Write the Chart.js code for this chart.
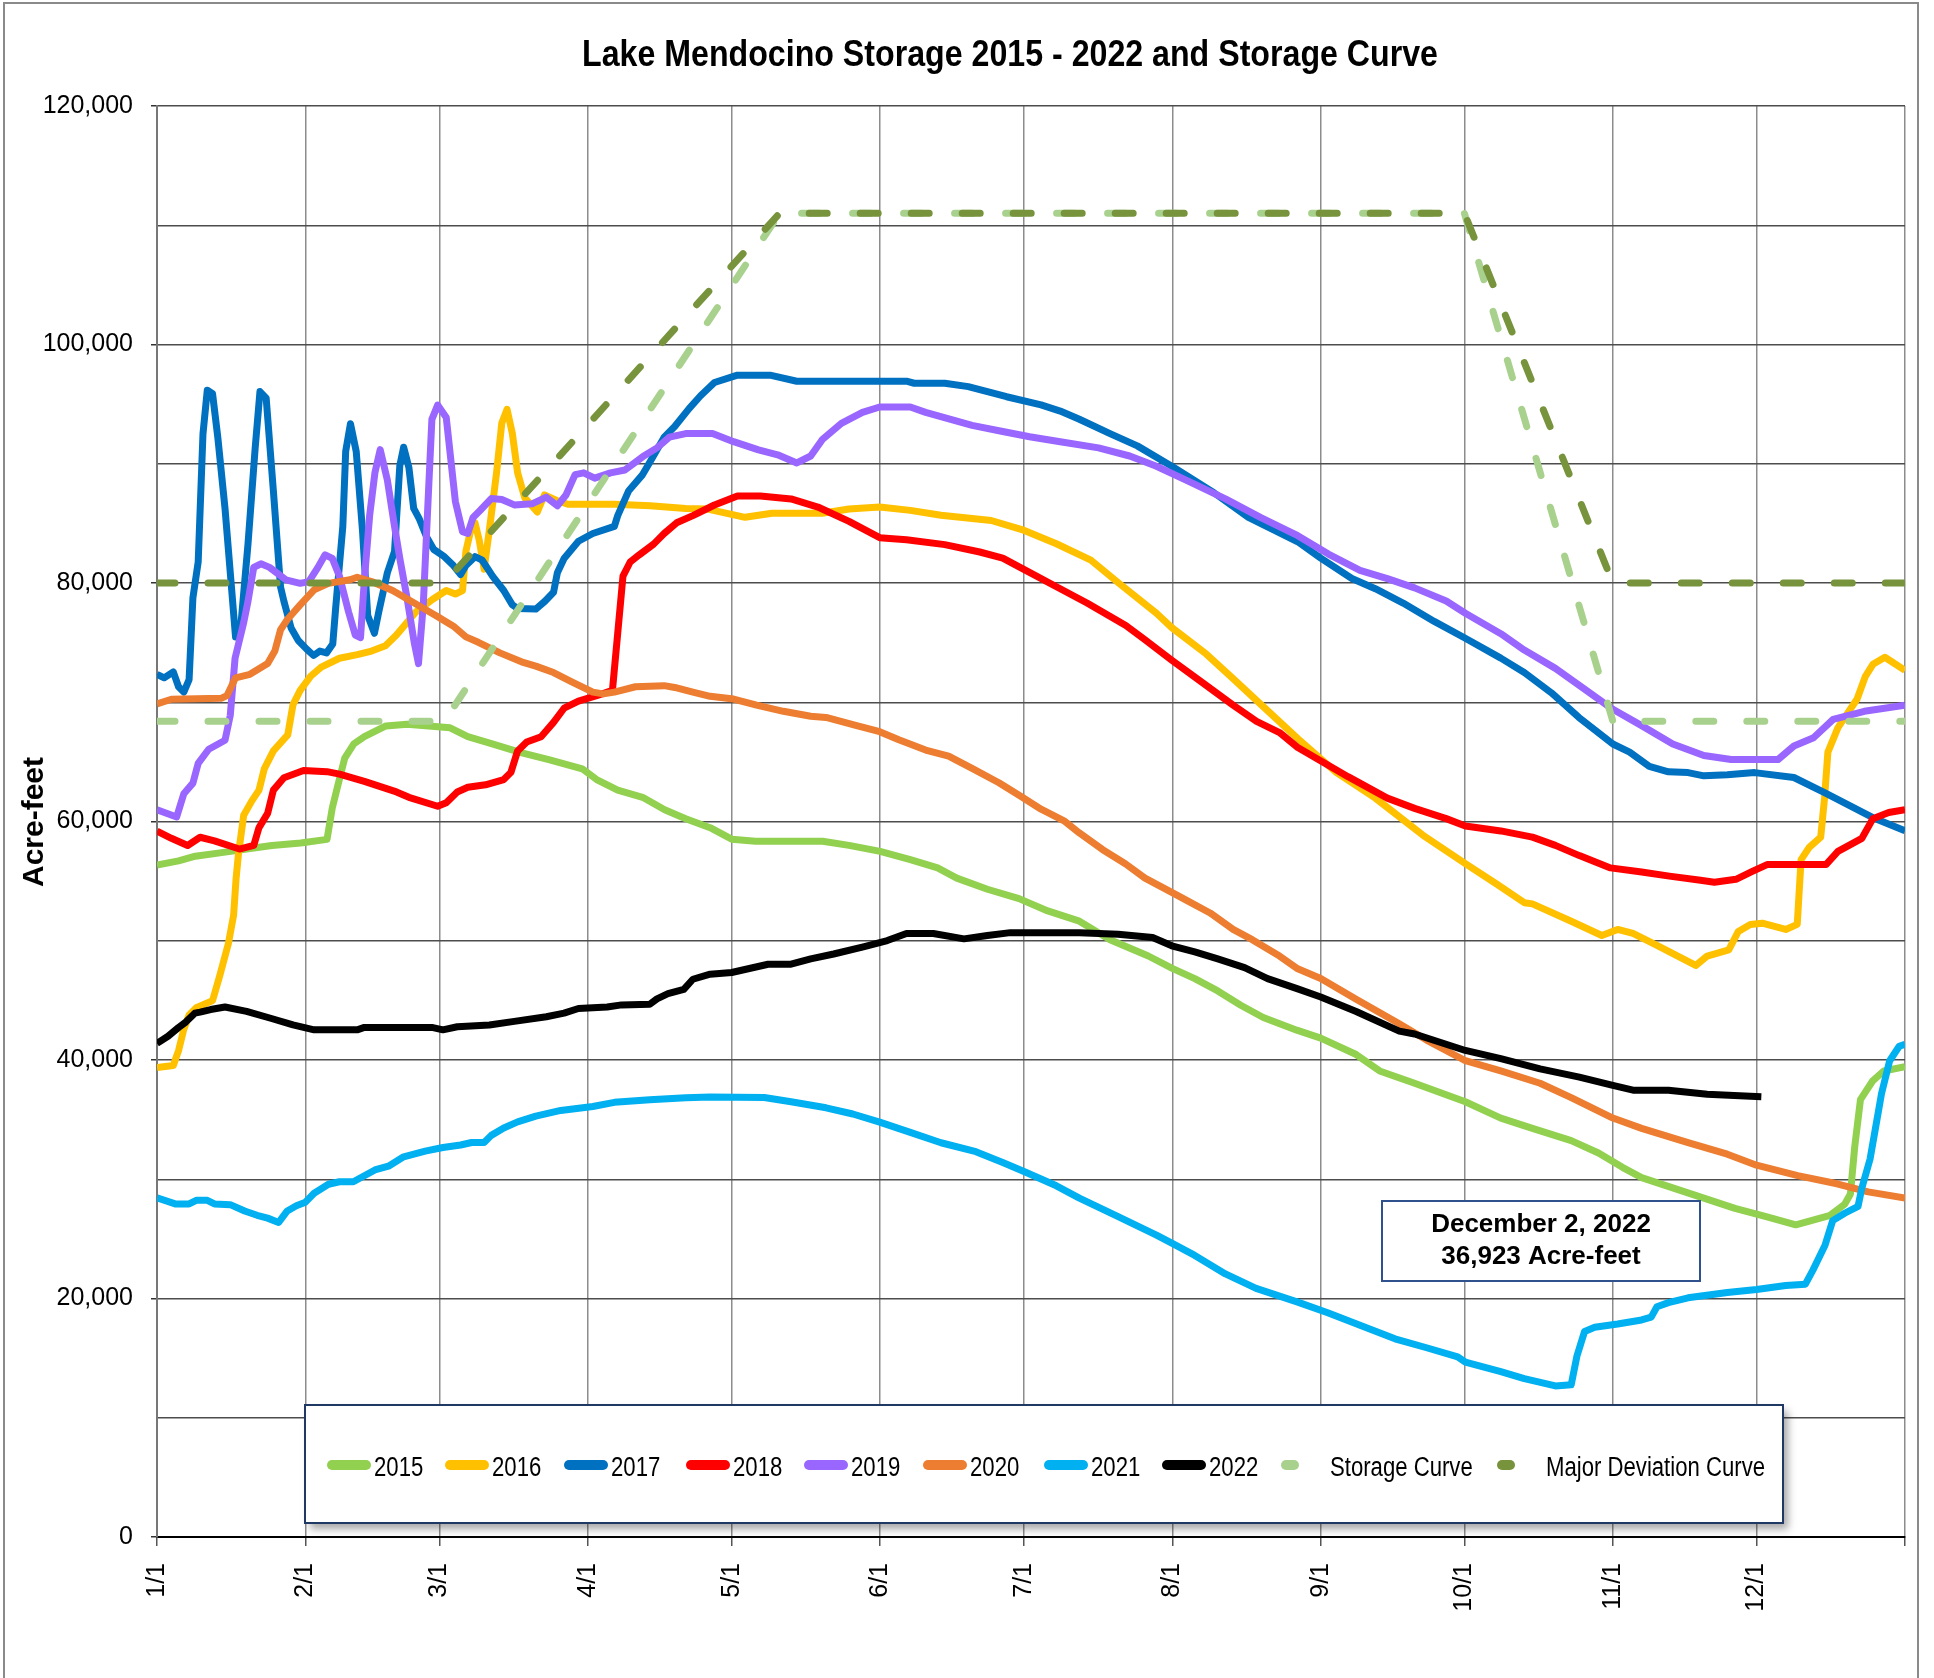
<!DOCTYPE html>
<html>
<head>
<meta charset="utf-8">
<title>Lake Mendocino Storage</title>
<script src="https://cdn.jsdelivr.net/npm/chart.js@4.4.1/dist/chart.umd.min.js"></script>
<style>
  html, body { margin: 0; padding: 0; background: #fff; }
  #wrap { position: relative; width: 1934px; height: 1678px; }
</style>
</head>
<body>
<div id="wrap"><canvas id="grafico"></canvas></div>
<script>
// day of year (0 = Jan 1) and storage in acre-feet
const s2015 = [[0,56350],[4.5,56700],[8,57090],[13.5,57390],[18.7,57690],[24,57990],[30,58200],[35.5,58500],[36.6,61130],[37.7,62930],[39.2,65320],[41.1,66510],[43.3,67110],[47.8,68010],[52.2,68160],[56.7,68010],[61.2,67860],[64.9,67110],[70,66510],[76,65770],[82,65170],[88.8,64420],[91.8,63520],[96.2,62630],[101.4,62030],[106,60980],[110.4,60230],[115.5,59480],[120,58520],[125,58350],[139,58350],[144.5,58000],[151,57490],[157.3,56800],[163,56110],[167,55250],[173.4,54320],[180,53530],[186,52500],[192.6,51640],[199,50090],[207,48720],[212,47680],[216.7,46820],[221.5,45790],[226.3,44590],[231,43560],[238,42500],[243,41840],[250.4,40460],[255.3,39080],[262.6,38050],[273.2,36500],[280.6,35130],[287.2,34270],[295.3,33240],[301,32200],[306,31000],[310,30140],[316.5,29280],[323,28420],[329.5,27560],[336,26870],[342.2,26180],[349.2,26940],[352.4,27900],[353.6,28760],[354.5,32720],[355.7,36680],[358.2,38220],[360.6,39080],[365,39430]];

const s2016 = [[0,39360],[3.4,39540],[4.5,40790],[5.6,42580],[6.7,43780],[8.2,44380],[11.6,44980],[13.1,47070],[14.9,49760],[16,52150],[16.5,55140],[17,57240],[18.1,60530],[19.8,61730],[21.3,62630],[22.4,64420],[24.3,65920],[27.3,67260],[28.4,69800],[29.9,71000],[32.1,72190],[34.3,72940],[38.1,73690],[41.8,73990],[44.8,74290],[47.7,74730],[50,75630],[52.2,76680],[54.1,77580],[57.5,78620],[60.4,79370],[62.3,79070],[63.8,79370],[64.5,82660],[65.7,84750],[66.4,85050],[67.3,83560],[68.3,81160],[69.4,84450],[70.9,89240],[72,93420],[73.1,94560],[74.2,92530],[75.3,89240],[76.8,87140],[79.4,85950],[80.9,87380],[83.6,86900],[85.8,86600],[95.5,86600],[103,86480],[110.4,86250],[115,86200],[122.8,85510],[128.4,85850],[138.9,85850],[144.5,86200],[150.9,86370],[157.3,86090],[163.7,85680],[174.2,85240],[180.6,84480],[187.8,83290],[195,81920],[200.7,80030],[208.7,77460],[211.9,76260],[219.1,74040],[224.7,71980],[231.1,69590],[238.2,66950],[246.3,64100],[254.4,61960],[264.3,58860],[273.2,56460],[279.8,54740],[285.5,53190],[287.2,53090],[295.3,51640],[301.7,50440],[305,50950],[308.2,50610],[313.1,49640],[321.3,47930],[323.7,48720],[328.2,49230],[330.2,50780],[332.7,51370],[335.2,51470],[340.1,50950],[342.5,51370],[343.3,56800],[345,57830],[347.4,58690],[348.2,61960],[348.9,65820],[351,67870],[355,70270],[356.7,72150],[358.3,73180],[360.8,73770],[362.4,73350],[365,72670]];

const s2017 = [[0,72340],[1.5,72050],[3.4,72550],[4.5,71300],[5.6,70850],[6.7,71900],[7.5,78770],[8.6,81760],[9.6,92500],[10.5,96170],[11.6,95870],[12.7,92200],[14.2,86250],[16.4,75480],[17.5,76380],[19,83260],[20.5,91330],[21.5,96050],[22.8,95500],[24.3,87740],[25.8,79670],[26.5,78470],[28,76230],[29.5,75180],[31.3,74430],[32.7,73920],[34,74290],[35.4,74140],[36.7,74880],[37.3,77870],[38.8,84750],[39.4,91030],[40.4,93360],[41.6,91030],[42.9,84450],[44,77270],[45.4,75780],[46.3,77570],[48.1,80860],[49.6,82660],[50.7,89830],[51.5,91390],[52.6,89680],[53.6,86250],[54.8,85350],[56.3,83860],[57.8,82810],[60,82210],[61.9,81460],[63.4,80710],[64.5,81460],[66.4,82210],[67.9,81910],[70.1,80560],[72.4,79370],[74.2,78170],[75.3,77870],[79.1,77810],[81,78470],[82.8,79220],[83.6,80860],[85,82060],[88,83500],[91,84150],[95.5,84750],[96.2,85650],[98.5,87740],[101.4,89090],[102.9,90130],[105.9,92230],[108.1,93120],[111.1,94620],[113.5,95700],[116.4,96810],[121.2,97430],[128,97430],[133.6,96920],[156.5,96920],[158.1,96750],[164.5,96750],[169.4,96470],[177.4,95620],[184.6,94930],[188.6,94420],[192.6,93730],[199,92530],[204.7,91500],[211.9,89790],[220.7,87570],[227.9,85510],[238.2,83460],[243,82090],[249.5,80380],[254.4,79520],[260.2,78320],[266.7,76780],[273,75410],[280.6,73700],[285.5,72500],[291.2,70780],[296.9,68730],[304,66500],[307.5,65820],[311.6,64620],[315.6,64170],[319.7,64100],[323,63830],[327.9,63930],[333.6,64100],[341.8,63690],[348.3,62400],[358.2,60340],[365,59220]];

const s2018 = [[0,59190],[3,58590],[6.4,57990],[9,58680],[12,58380],[17.2,57690],[20.2,57990],[21.3,59490],[23.1,60680],[24.3,62630],[26.5,63670],[30.6,64270],[35.5,64180],[38.1,63970],[43.3,63370],[50,62480],[52.6,62030],[58.6,61280],[60.4,61580],[62.7,62480],[64.9,62870],[68.6,63080],[72.4,63520],[73.9,64120],[75.3,65920],[77.2,66660],[80.2,67110],[82.8,68310],[85,69500],[88,70100],[91.8,70550],[95.1,71000],[96.2,75780],[97.3,80570],[98.8,81760],[100.7,82360],[103.7,83260],[105.9,84150],[108.5,85050],[111.9,85650],[116.4,86540],[121.2,87290],[126,87290],[132.4,87050],[138,86370],[144.5,85170],[150.9,83800],[156.5,83630],[164.5,83220],[171.8,82600],[176.6,82090],[181.4,81060],[188.6,79520],[194.2,78320],[202.3,76440],[206.3,75240],[211.9,73520],[218.3,71640],[224.7,69760],[229.6,68390],[234.4,67460],[238.2,66200],[248.7,63760],[256.9,61960],[262.6,61100],[269.2,60240],[273.2,59620],[280.6,59210],[287.2,58690],[292,58000],[297,57140],[303.5,56110],[310,55770],[315.8,55420],[322.3,55080],[325.2,54910],[329.7,55150],[332.9,55770],[336.2,56390],[348.5,56390],[351,57490],[356,58590],[358.3,60240],[361.6,60760],[365,61000]];

const s2019 = [[0,60980],[4.1,60380],[5.6,62330],[7.5,63220],[8.6,64870],[10.8,66060],[14.2,66810],[15.3,68900],[16.3,73690],[18.1,76680],[19,78470],[20.2,81310],[21.7,81610],[23.5,81310],[26.9,80270],[29.9,79970],[31.7,80120],[33.6,81310],[35.1,82360],[36.6,82060],[38.1,80570],[40,77580],[41.4,75640],[42.5,75420],[43.3,80270],[44.4,85650],[45.5,89240],[46.6,91180],[48.1,88640],[49.6,84750],[50.7,82060],[52.2,78770],[53.7,75030],[54.6,73240],[55.6,78170],[56.7,87740],[57.4,93720],[58.6,94920],[60.4,93870],[62.3,86840],[63.8,84300],[64.9,84150],[66,85500],[67.5,86100],[69.8,87080],[72,87000],[74.6,86550],[78.3,86640],[81.3,87200],[83.6,86480],[85.4,87380],[87.3,89090],[89.1,89240],[91.4,88790],[94.7,89240],[97.7,89480],[101.4,90580],[104.4,91330],[107,92230],[110.4,92530],[116,92530],[120.4,91850],[125.6,91160],[129.6,90750],[133.6,90070],[136.5,90650],[138.9,92020],[142.9,93390],[147.3,94310],[150.9,94760],[157.3,94760],[160.5,94310],[170.2,93220],[176.6,92700],[182.2,92260],[188.6,91850],[196.6,91330],[203.1,90650],[208.7,89790],[215.1,88590],[223.1,87050],[230.4,85510],[238.2,83970],[244.6,82430],[251.2,81060],[256.9,80370],[262.6,79590],[269.2,78490],[273.2,77460],[280.6,75750],[285.5,74380],[292,72840],[298.6,70950],[304,69410],[310,68040],[316.5,66500],[323,65540],[328.7,65200],[338.5,65200],[341.8,66330],[345.9,67020],[350,68560],[356.5,69240],[365,69760]];

const s2020 = [[0,69860],[3,70250],[13.5,70340],[14.6,70550],[16.4,72050],[19.4,72340],[23.1,73240],[24.6,74290],[25.8,76080],[27.3,76980],[29.9,78170],[32.8,79430],[35.8,79970],[40.3,80270],[41.8,80480],[44.8,80120],[49.2,79370],[53.7,78320],[58.2,77280],[61.9,76380],[64.5,75480],[67.1,75030],[71.6,74140],[76.1,73390],[79.1,73030],[82.8,72490],[86.5,71740],[91,70850],[93.2,70700],[95.5,70850],[99.9,71300],[105.9,71390],[108.1,71240],[111.9,70850],[115.5,70500],[120.4,70270],[125.2,69760],[130.8,69240],[136.5,68830],[139.7,68730],[146.1,68040],[150.9,67530],[154.9,66850],[160.5,65990],[165.3,65480],[170.2,64450],[175.8,63250],[180.6,62050],[184.6,61030],[189.4,60060],[192.6,59040],[197.4,57660],[202.2,56460],[206.3,55250],[211.9,54050],[215.1,53360],[219.9,52330],[224.7,50950],[228.7,50090],[234.4,48720],[238.2,47650],[243,46830],[250.4,45100],[259.4,43040],[265.1,41670],[273.2,39940],[280.6,39080],[288.8,38050],[295.3,36850],[304,35130],[310,34270],[319.7,33070],[327.9,32100],[334,31180],[342.6,30310],[350.8,29620],[357.3,28940],[365,28420]];

const s2021 = [[0,28440],[3.8,27930],[6.7,27930],[8.2,28230],[10.5,28230],[12,27930],[15.3,27870],[18.3,27340],[20.9,26980],[23.1,26740],[25.4,26380],[27.2,27340],[29.1,27780],[31,28080],[32.8,28830],[35.8,29580],[38.1,29790],[41,29790],[45.5,30780],[48.5,31130],[51.5,31880],[56,32360],[59.7,32660],[63.4,32870],[65.7,33080],[68.3,33080],[69.8,33680],[72.4,34300],[75.3,34810],[79.1,35290],[84.3,35770],[91,36100],[95.5,36450],[102.9,36660],[110.4,36840],[115.5,36900],[126.8,36850],[132.4,36500],[139.7,35990],[145.3,35470],[150.9,34790],[157.3,33930],[163.7,33060],[171,32310],[176.6,31410],[181.4,30590],[187.8,29450],[192.6,28420],[200.7,26870],[208.7,25320],[211.9,24640],[216.7,23610],[223.1,22060],[229.5,20850],[238.2,19700],[244.6,18790],[251.2,17760],[258.5,16620],[265.1,15870],[271.6,15110],[273.2,14660],[280.6,13870],[285.5,13280],[292,12670],[295.3,12770],[296.5,15180],[298.1,17240],[300.2,17590],[305,17860],[310,18200],[312,18440],[313.2,19310],[315.6,19650],[319.7,20060],[327.9,20510],[334,20750],[340.1,21090],[344.2,21200],[345.8,22400],[348.3,24460],[349.9,26530],[352.4,27150],[355.2,27730],[356,29280],[357.7,31690],[358.9,34440],[360.1,37190],[361.8,39940],[363.8,41150],[365,41320]];

const s2022 = [[0,41390],[2.3,41990],[4.5,42730],[6,43180],[7.9,43930],[9,44020],[11.2,44230],[14.2,44440],[18.7,44080],[23.9,43480],[28.4,42940],[32.8,42530],[41.8,42530],[43.3,42730],[57.4,42730],[59.7,42530],[62.7,42790],[69.4,42940],[74.6,43240],[81.3,43630],[85,43930],[88,44320],[94,44440],[97,44620],[102.9,44680],[104.4,45130],[106.7,45570],[110,45930],[111.9,46770],[115.5,47200],[120,47340],[127.6,48030],[132.4,48030],[136.5,48480],[141.3,48890],[147.7,49510],[152.5,50020],[156.5,50610],[162.1,50610],[168.5,50160],[173.4,50440],[178.2,50680],[192.6,50680],[200.7,50540],[207.9,50270],[211.9,49580],[216.7,49060],[221.5,48480],[227.1,47750],[231.9,46820],[238.2,45960],[243,45280],[250.4,44070],[259.4,42420],[262.6,42180],[273.2,40800],[280.6,40120],[288.8,39260],[297,38570],[304,37880],[308.2,37470],[315.6,37470],[323.7,37120],[335,36923]];

const storageCurve = [[0,68400],[60,68400],[130,111000],[273,111000],[304,68400],[365,68400]];
const majorDeviation = [[0,80000],[60,80000],[130,111000],[273,111000],[304,80000],[365,80000]];

// x axis: first day of each month, plus the year end
const monthDays = [0,31,59,90,120,151,181,212,243,273,304,334,365];
const monthLabels = ['1/1','2/1','3/1','4/1','5/1','6/1','7/1','8/1','9/1','10/1','11/1','12/1',''];

const seriesNames = ['2015','2016','2017','2018','2019','2020','2021','2022','Storage Curve','Major Deviation Curve'];
const seriesData = [s2015, s2016, s2017, s2018, s2019, s2020, s2021, s2022, storageCurve, majorDeviation];
const seriesColors = ['#92D050','#FFC000','#0070C0','#FF0000','#9966FF','#ED7D31','#00B0F0','#000000','#A9D18E','#77933C'];

const FONT = '"Liberation Sans", Arial, sans-serif';

// Arial Narrow look: use Liberation Sans Narrow if present, else squeeze Liberation Sans
function tieneFuente(nombre) {
    let c = document.createElement('canvas').getContext('2d');
    c.font = '40px monospace';
    let a = c.measureText('Storage 2015 Curve').width;
    c.font = '40px "' + nombre + '", monospace';
    let b = c.measureText('Storage 2015 Curve').width;
    return a !== b;
}
const NARROW = tieneFuente('Liberation Sans Narrow');

// ancho: if given, the text is stretched to that width
function textoEstrecho(ctx, text, x, y, size, weight, align, ancho) {
    ctx.save();
    ctx.fillStyle = '#000';
    ctx.textAlign = align;
    ctx.textBaseline = 'alphabetic';
    let sx = 1;
    if (NARROW) {
        ctx.font = weight + ' ' + size + 'px "Liberation Sans Narrow"';
    } else {
        ctx.font = weight + ' ' + size + 'px "Liberation Sans"';
        sx = 0.82;
    }
    if (ancho) {
        sx = ancho / ctx.measureText(text).width;
    }
    ctx.translate(x, y);
    ctx.scale(sx, 1);
    ctx.fillText(text, 0, 0);
    ctx.restore();
}

const decorado = {
    id: 'decorado',
    afterDraw(chart) {
        let ctx = chart.ctx;

        // outer frame
        ctx.save();
        ctx.strokeStyle = '#8a8a8a';
        ctx.lineWidth = 2;
        ctx.strokeRect(4, 3, 1914, 1700);
        ctx.restore();

        // title
        textoEstrecho(ctx, 'Lake Mendocino Storage 2015 - 2022 and Storage Curve', 1010, 66, 37, 'bold', 'center', 856);

        // y axis title
        ctx.save();
        ctx.translate(35, 822);
        ctx.rotate(-Math.PI / 2);
        ctx.font = 'bold 30px ' + FONT;
        ctx.fillStyle = '#000';
        ctx.textAlign = 'center';
        ctx.textBaseline = 'middle';
        ctx.fillText('Acre-feet', 0, 0);
        ctx.restore();

        // legend box
        ctx.save();
        ctx.shadowColor = 'rgba(0,0,0,0.35)';
        ctx.shadowBlur = 8;
        ctx.shadowOffsetX = 5;
        ctx.shadowOffsetY = 6;
        ctx.fillStyle = '#fff';
        ctx.fillRect(305, 1405, 1478, 118);
        ctx.restore();
        ctx.save();
        ctx.strokeStyle = '#1F3864';
        ctx.lineWidth = 2;
        ctx.strokeRect(305, 1405, 1478, 118);
        ctx.restore();

        let marcas = [327, 445, 564, 686, 804, 923, 1044, 1162, 1281, 1497];
        let ly = 1466;
        seriesNames.forEach((nombre, i) => {
            let x0 = marcas[i];
            let largo = i < 8 ? 44 : 18;
            ctx.save();
            ctx.strokeStyle = seriesColors[i];
            ctx.lineWidth = 10;
            ctx.lineCap = 'round';
            ctx.beginPath();
            ctx.moveTo(x0 + 5, ly - 1);
            ctx.lineTo(x0 + 5 + largo - 10, ly - 1);
            ctx.stroke();
            ctx.restore();
            let tx = i < 8 ? x0 + 47 : x0 + 49;
            textoEstrecho(ctx, nombre, tx, ly + 10, 27, 'normal', 'left');
        });

        // current value note
        ctx.save();
        ctx.fillStyle = '#fff';
        ctx.fillRect(1382, 1201, 318, 80);
        ctx.strokeStyle = '#2F528F';
        ctx.lineWidth = 2;
        ctx.strokeRect(1382, 1201, 318, 80);
        ctx.font = 'bold 26px ' + FONT;
        ctx.fillStyle = '#000';
        ctx.textAlign = 'center';
        ctx.fillText('December 2, 2022', 1541, 1232);
        ctx.fillText('36,923 Acre-feet', 1541, 1264);
        ctx.restore();
    }
};

let datasets = seriesData.map((serie, i) => {
    let curva = i >= 8;
    return {
        label: seriesNames[i],
        data: serie.map(p => ({ x: p[0], y: p[1] })),
        borderColor: seriesColors[i],
        backgroundColor: seriesColors[i],
        borderWidth: 7,
        borderDash: curva ? [18, 33] : [],
        borderCapStyle: curva ? 'round' : 'butt',
        borderJoinStyle: 'round',
        pointRadius: 0,
        tension: 0,
        fill: false,
        order: seriesData.length - i
    };
});

Chart.defaults.font.family = FONT;
Chart.defaults.color = '#000';

let config = {
    type: 'line',
    data: { datasets: datasets },
    options: {
        responsive: true,
        maintainAspectRatio: false,
        animation: false,
        layout: { padding: { top: 106, right: 29, bottom: 0, left: 0 } },
        plugins: {
            legend: { display: false },
            title: { display: false },
            tooltip: { enabled: false }
        },
        scales: {
            x: {
                type: 'linear',
                min: 0,
                max: 365,
                afterBuildTicks: scale => {
                    scale.ticks = monthDays.map(v => ({ value: v }));
                },
                afterFit: scale => {
                    scale.height = 141;
                    scale.paddingLeft = 0;
                    scale.paddingRight = 0;
                },
                ticks: {
                    autoSkip: false,
                    maxRotation: 90,
                    minRotation: 90,
                    padding: 17,
                    font: { size: 25 },
                    color: '#000',
                    callback: (v) => monthLabels[monthDays.indexOf(v)]
                },
                grid: {
                    color: '#8c8c8c',
                    lineWidth: 1.5,
                    tickLength: 9,
                    tickColor: '#555'
                },
                border: { display: true, color: '#000', width: 2 }
            },
            y: {
                min: 0,
                max: 120000,
                afterFit: scale => {
                    scale.width = 157;
                    scale.paddingTop = 0;
                    scale.paddingBottom = 0;
                },
                ticks: {
                    stepSize: 10000,
                    padding: 18,
                    font: { size: 25 },
                    color: '#000',
                    callback: (v) => v % 20000 === 0 ? v.toLocaleString('en-US') : ''
                },
                grid: {
                    color: '#4d4d4d',
                    lineWidth: 1.5,
                    tickLength: 6,
                    tickColor: c => (c.tick && c.tick.value % 20000 === 0) ? '#333' : 'rgba(0,0,0,0)'
                },
                border: { display: true, color: '#777', width: 2 }
            }
        }
    },
    plugins: [decorado]
};

let graficoChartJS = new Chart(document.getElementById('grafico').getContext('2d'), config);
</script>
</body>
</html>
